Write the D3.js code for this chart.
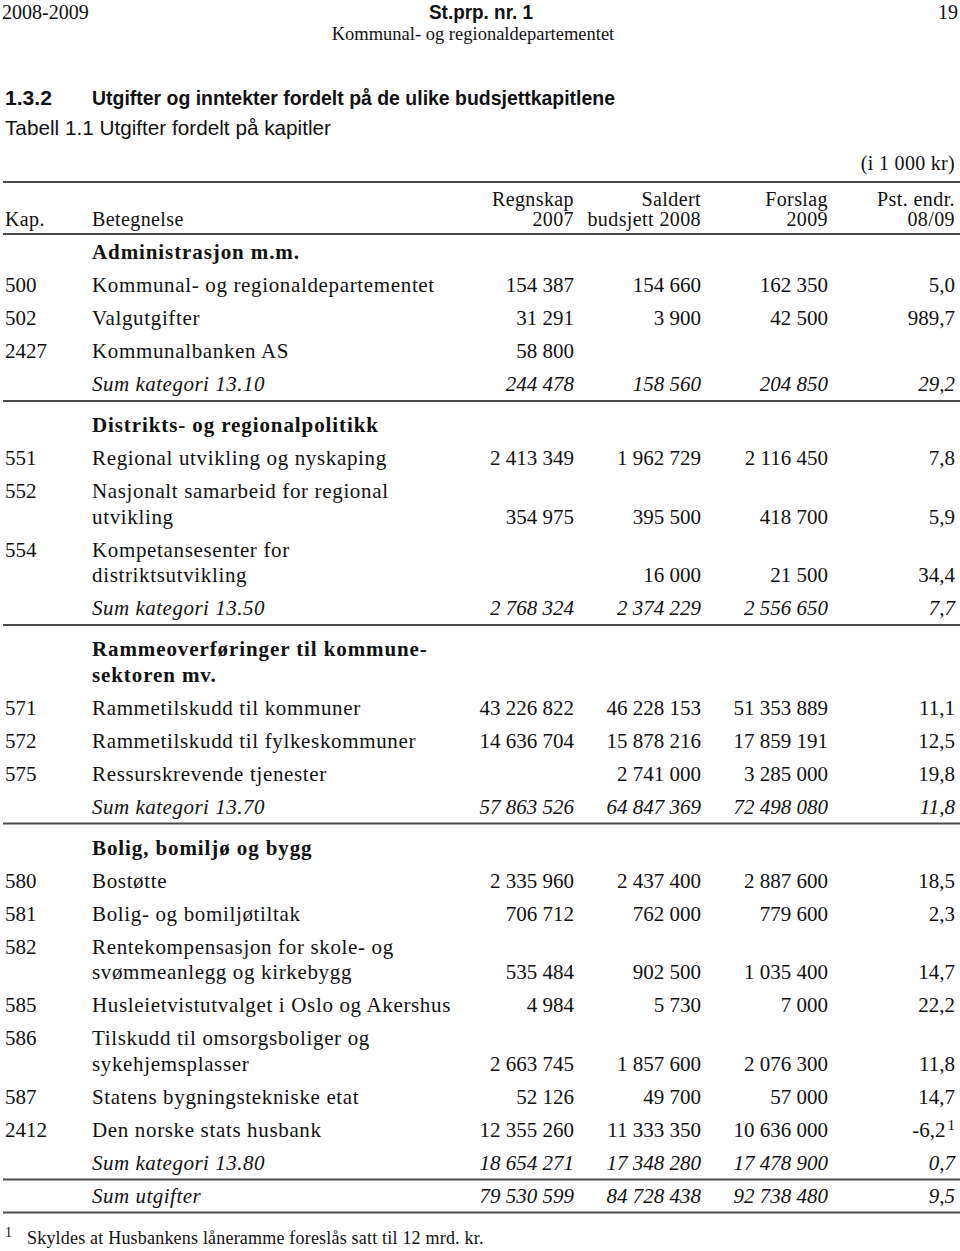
<!DOCTYPE html>
<html>
<head>
<meta charset="utf-8">
<script src="https://cdn.jsdelivr.net/npm/d3@7"></script>
<style>
	body { margin: 0; background: #fff; }
	svg { display: block; }
	.serif { font-family: "Liberation Serif", "DejaVu Serif", serif; fill: #111; }
	.sans { font-family: "Liberation Sans", "DejaVu Sans", sans-serif; fill: #111; }
</style>
</head>
<body>
<script>
// table rows (kap, label, type) and the four value columns
var rowKap = ['', '500', '502', '2427', '', '', '551', '552', '554', '', '', '571', '572', '575', '', '', '580', '581', '582', '585', '586', '587', '2412', '', '']
var rowLabel = [
	['Administrasjon m.m.'],
	['Kommunal- og regionaldepartementet'],
	['Valgutgifter'],
	['Kommunalbanken AS'],
	['Sum kategori 13.10'],
	['Distrikts- og regionalpolitikk'],
	['Regional utvikling og nyskaping'],
	['Nasjonalt samarbeid for regional', 'utvikling'],
	['Kompetansesenter for', 'distriktsutvikling'],
	['Sum kategori 13.50'],
	['Rammeoverføringer til kommune-', 'sektoren mv.'],
	['Rammetilskudd til kommuner'],
	['Rammetilskudd til fylkeskommuner'],
	['Ressurskrevende tjenester'],
	['Sum kategori 13.70'],
	['Bolig, bomiljø og bygg'],
	['Bostøtte'],
	['Bolig- og bomiljøtiltak'],
	['Rentekompensasjon for skole- og', 'svømmeanlegg og kirkebygg'],
	['Husleietvistutvalget i Oslo og Akershus'],
	['Tilskudd til omsorgsboliger og', 'sykehjemsplasser'],
	['Statens bygningstekniske etat'],
	['Den norske stats husbank'],
	['Sum kategori 13.80'],
	['Sum utgifter']
]
var rowType = ['section', 'item', 'item', 'item', 'sum', 'section', 'item', 'item', 'item', 'sum', 'section', 'item', 'item', 'item', 'sum', 'section', 'item', 'item', 'item', 'item', 'item', 'item', 'item', 'sum', 'total']
var regnskap2007 = [null, 154387, 31291, 58800, 244478, null, 2413349, 354975, null, 2768324, null, 43226822, 14636704, null, 57863526, null, 2335960, 706712, 535484, 4984, 2663745, 52126, 12355260, 18654271, 79530599]
var saldert2008 = [null, 154660, 3900, null, 158560, null, 1962729, 395500, 16000, 2374229, null, 46228153, 15878216, 2741000, 64847369, null, 2437400, 762000, 902500, 5730, 1857600, 49700, 11333350, 17348280, 84728438]
var forslag2009 = [null, 162350, 42500, null, 204850, null, 2116450, 418700, 21500, 2556650, null, 51353889, 17859191, 3285000, 72498080, null, 2887600, 779600, 1035400, 7000, 2076300, 57000, 10636000, 17478900, 92738480]
var pstEndr = [null, 5.0, 989.7, null, 29.2, null, 7.8, 5.9, 34.4, 7.7, null, 11.1, 12.5, 19.8, 11.8, null, 18.5, 2.3, 14.7, 22.2, 11.8, 14.7, -6.2, 0.7, 9.5]
var rowNote = {22: '1'}

var colKeys = ['kap', 'label', 'r07', 's08', 'f09', 'pst']
var colHead1 = ['', '', 'Regnskap', 'Saldert', 'Forslag', 'Pst. endr.']
var colHead2 = ['Kap.', 'Betegnelse', '2007', 'budsjett 2008', '2009', '08/09']

var W = 960, H = 1251
var svg = d3.select('body').append('svg').attr('width', W).attr('height', H)

var colX = d3.scaleOrdinal().domain(colKeys).range([5, 92, 574, 701, 828, 955])

var no = d3.formatLocale({decimal: ',', thousands: ' ', grouping: [3], currency: ['', ''], minus: '-'})
var fmtInt = no.format(',d'), fmtPct = no.format(',.1f')

// page header (sans is squeezed to the condensed widths of the original)
svg.append('text').attr('class', 'serif').attr('x', 2).attr('y', 19).attr('font-size', 20).text('2008-2009')
svg.append('text').attr('class', 'sans').attr('x', 429).attr('y', 19)
	.attr('font-size', 21).attr('font-weight', 'bold')
	.attr('textLength', 104).attr('lengthAdjust', 'spacingAndGlyphs').text('St.prp. nr. 1')
svg.append('text').attr('class', 'serif').attr('x', 958).attr('y', 19).attr('text-anchor', 'end').attr('font-size', 20).text('19')
svg.append('text').attr('class', 'serif').attr('x', 473).attr('y', 40).attr('text-anchor', 'middle')
	.attr('font-size', 18.5).text('Kommunal- og regionaldepartementet')

svg.append('text').attr('class', 'sans').attr('x', 5).attr('y', 105).attr('font-size', 21).attr('font-weight', 'bold')
	.attr('textLength', 47).attr('lengthAdjust', 'spacingAndGlyphs').text('1.3.2')
svg.append('text').attr('class', 'sans').attr('x', 92).attr('y', 105).attr('font-size', 21).attr('font-weight', 'bold')
	.attr('textLength', 523).attr('lengthAdjust', 'spacingAndGlyphs')
	.text('Utgifter og inntekter fordelt på de ulike budsjettkapitlene')
svg.append('text').attr('class', 'sans').attr('x', 5).attr('y', 135).attr('font-size', 21)
	.attr('textLength', 326).attr('lengthAdjust', 'spacingAndGlyphs')
	.text('Tabell 1.1 Utgifter fordelt på kapitler')
svg.append('text').attr('class', 'serif').attr('x', colX('pst')).attr('y', 170).attr('text-anchor', 'end')
	.attr('font-size', 20).attr('letter-spacing', 0.3).text('(i 1 000 kr)')

// rules
var rules = [182, 234]
function rule(y) {
	svg.append('line').attr('x1', 3).attr('x2', 960).attr('y1', y).attr('y2', y)
		.attr('stroke', '#4a4a4a').attr('stroke-width', 2)
}

// column heads
colKeys.forEach((k, i) => {
	var anchor = i < 2 ? 'start' : 'end'
	if (colHead1[i]) svg.append('text').attr('class', 'serif').attr('x', colX(k)).attr('y', 206)
		.attr('text-anchor', anchor).attr('font-size', 20).attr('letter-spacing', 0.4).text(colHead1[i])
	svg.append('text').attr('class', 'serif').attr('x', colX(k)).attr('y', 226)
		.attr('text-anchor', anchor).attr('font-size', 20).attr('letter-spacing', 0.4).text(colHead2[i])
})

// vertical layout from row types
var rowStep = 33, lineStep = 25.5, afterRule = 24, ruleGap = 17
var rows = []
var cursor = null, lastRule = 234
rowLabel.forEach((lab, i) => {
	var t = rowType[i]
	var y0
	if (i == 0) y0 = 252
	else if (t == 'section') y0 = lastRule + afterRule
	else if (t == 'total') y0 = lastRule + 16
	else y0 = cursor + rowStep
	var lines = lab.map((s, j) => y0 + j * lineStep)
	cursor = lines[lines.length - 1]
	rows.push({i: i, type: t, kap: rowKap[i], label: lab, lines: lines,
		r07: regnskap2007[i], s08: saldert2008[i], f09: forslag2009[i], pst: pstEndr[i], note: rowNote[i]})
	if (t == 'sum' || t == 'total') {
		lastRule = cursor + ruleGap
		rules.push(lastRule)
	}
})
rules.forEach(rule)

var g = svg.selectAll('.row').data(rows).enter().append('g').attr('class', 'row')

g.filter(d => d.kap).append('text').attr('class', 'serif')
	.attr('x', colX('kap')).attr('y', d => d.lines[0] + 7).attr('font-size', 21).text(d => d.kap)

g.each(function (d) {
	var sel = d3.select(this)
	d.label.forEach((s, j) => {
		var t = sel.append('text').attr('class', 'serif').attr('x', colX('label')).attr('y', d.lines[j] + 7)
			.attr('font-size', 21).text(s)
		if (d.type == 'section') t.attr('font-weight', 'bold').attr('letter-spacing', 0.9)
		else if (d.type == 'sum' || d.type == 'total') t.attr('font-style', 'italic').attr('letter-spacing', 0.5)
		else t.attr('letter-spacing', 0.65)
	})
	var yv = d.lines[d.lines.length - 1] + 7
	var italic = (d.type == 'sum' || d.type == 'total') ? 'italic' : 'normal'
	;['r07', 's08', 'f09'].forEach(k => {
		if (d[k] == null) return
		sel.append('text').attr('class', 'serif').attr('x', colX(k)).attr('y', yv).attr('text-anchor', 'end')
			.attr('font-size', 21).attr('font-style', italic).text(fmtInt(d[k]))
	})
	if (d.pst != null) {
		var tp = sel.append('text').attr('class', 'serif').attr('x', colX('pst')).attr('y', yv).attr('text-anchor', 'end')
			.attr('font-size', 21).attr('font-style', italic).text(fmtPct(d.pst))
		if (d.note) tp.append('tspan').attr('dx', 2).attr('dy', -7).attr('font-size', 15).text(d.note)
	}
})

// footnote
svg.append('text').attr('class', 'serif').attr('x', 5).attr('y', 1237).attr('font-size', 14).text('1')
svg.append('text').attr('class', 'serif').attr('x', 27).attr('y', 1244).attr('font-size', 18).attr('letter-spacing', 0.2)
	.text('Skyldes at Husbankens låneramme foreslås satt til 12 mrd. kr.')
</script>
</body>
</html>
